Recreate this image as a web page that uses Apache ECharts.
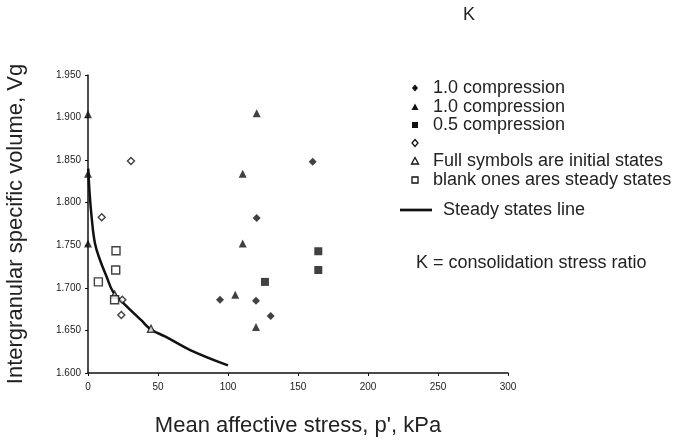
<!DOCTYPE html>
<html>
<head>
<meta charset="utf-8">
<script src="https://cdn.jsdelivr.net/npm/echarts@6/dist/echarts.min.js"></script>
<style>html,body{margin:0;padding:0;background:#fff}#c{width:694px;height:441px}</style>
</head>
<body>
<div id="c"></div>
<script>
// Data (p' kPa, Vg)
var filledDiamonds = [[94.3,1.686],[120.5,1.782],[120,1.685],[130.5,1.667],[160.5,1.848]];
var filledTriangles = [[120.5,1.905],[110.5,1.834],[110.5,1.752],[105.2,1.692],[120,1.654],[0,1.904],[0,1.834],[0,1.752]];
var filledSquares = [[126.4,1.707],[164.5,1.743],[164.5,1.721]];
var openDiamonds = [[30.7,1.849],[9.8,1.783],[24.5,1.686],[23.8,1.668]];
var openTriangles = [[19,1.692],[45,1.652]];
var openSquares = [[20,1.7435],[19.8,1.721],[7.4,1.707],[19,1.686]];
var steadyLine = [[0.2,1.840],[1,1.815],[2.6,1.783],[5,1.752],[8.5,1.733],[13.3,1.713],[18,1.695],[26,1.681],[38,1.662],[45,1.651],[55,1.643],[73,1.627],[100,1.609]];
var xTicks = [0,50,100,150,200,250,300];
var yTicks = [1.600,1.650,1.700,1.750,1.800,1.850,1.900,1.950];
var legendLabels = ['1.0 compression','1.0 compression','0.5 compression','','Full symbols are initial states','blank ones ares steady states','Steady states line'];

var chart = echarts.init(document.getElementById('c'));
var axisFont = {fontFamily:'Liberation Sans', fontSize:10, color:'#222'};
function sc(name, data, symbol, size, filled){
  return {type:'scatter', name:name, data:data, symbol:symbol, symbolSize:size,
    itemStyle: filled ? {color:'#111'} : {color:'#fff', borderColor:'#111', borderWidth:1.4},
    z:3};
}
var legendY = [88,107,125,143,161,180,210];
var legendSymbols = ['diamond','triangle','rect','diamond','triangle','rect','line'];
var legendFilled = [true,true,true,false,false,false,true];
var graphics = [];
function symbolShape(sym, cx, cy, filled){
  var style = filled ? {fill:'#111'} : {fill:'#fff', stroke:'#111', lineWidth:1.3};
  if(sym==='diamond') return {type:'polygon', shape:{points:[[cx,cy-3.5],[cx+3,cy],[cx,cy+3.5],[cx-3,cy]]}, style:style};
  if(sym==='triangle') return {type:'polygon', shape:{points:[[cx,cy-3.5],[cx+3.5,cy+3],[cx-3.5,cy+3]]}, style:style};
  if(sym==='rect') return {type:'rect', shape:{x:cx-3,y:cy-3,width:6,height:6}, style:style};
  return {type:'line', shape:{x1:cx-15,y1:cy,x2:cx+17,y2:cy}, style:{stroke:'#111', lineWidth:2.7}};
}
var legendFont = '18px "Liberation Sans"';
for (var i=0;i<legendLabels.length;i++){
  graphics.push(symbolShape(legendSymbols[i], 415, legendY[i], legendFilled[i]));
  if (legendLabels[i]) graphics.push({type:'text', x: i===6?443:433, y:legendY[i], style:{text:legendLabels[i], font:legendFont, fill:'#222', verticalAlign:'middle'}});
}
graphics.push({type:'text', x:416, y:263, style:{text:'K = consolidation stress ratio', font:legendFont, fill:'#222', verticalAlign:'middle'}});
graphics.push({type:'text', x:469, y:15, style:{text:'K', font:legendFont, fill:'#222', verticalAlign:'middle', align:'center'}});

chart.setOption({
  animation:false,
  backgroundColor:'#fff',
  grid:{left:88, right:186, top:75, bottom:68, containLabel:false, outerBoundsMode:'none'},
  xAxis:{type:'value', min:0, max:300, interval:50,
    name:"Mean affective stress, p', kPa", nameLocation:'middle', nameGap:42,
    nameTextStyle:{fontFamily:'Liberation Sans', fontSize:22, color:'#222'},
    axisLine:{show:true, onZero:false, lineStyle:{color:'#111', width:1.5}},
    axisTick:{show:true, length:3, lineStyle:{color:'#111'}},
    axisLabel:Object.assign({margin:9, formatter:function(v){return xTicks.indexOf(v)>=0?String(v):'';}}, axisFont),
    splitLine:{show:false}},
  yAxis:{type:'value', min:1.6, max:1.95, interval:0.05,
    name:'Intergranular specific volume, Vg', nameLocation:'middle', nameGap:61,
    nameTextStyle:{fontFamily:'Liberation Sans', fontSize:22, color:'#222'},
    axisLine:{show:true, onZero:false, lineStyle:{color:'#111', width:1.5}},
    axisTick:{show:true, length:3, lineStyle:{color:'#111'}},
    axisLabel:Object.assign({margin:7, formatter:function(v){return v.toFixed(3);}}, axisFont),
    splitLine:{show:false}},
  graphic:graphics,
  series:[
    {type:'line', name:'Steady states line', data:steadyLine, smooth:0.4, showSymbol:false, symbol:'none',
      lineStyle:{color:'#111', width:2.5}, z:2},
    sc('1.0 compression', filledDiamonds, 'diamond', 8, true),
    sc('1.0 compression b', filledTriangles, 'triangle', 8, true),
    sc('0.5 compression', filledSquares, 'rect', 8, true),
    sc('open diamonds', openDiamonds, 'diamond', 7, false),
    sc('open triangles', openTriangles, 'triangle', 7, false),
    sc('open squares', openSquares, 'rect', 8, false)
  ]
});
</script>
</body>
</html>
